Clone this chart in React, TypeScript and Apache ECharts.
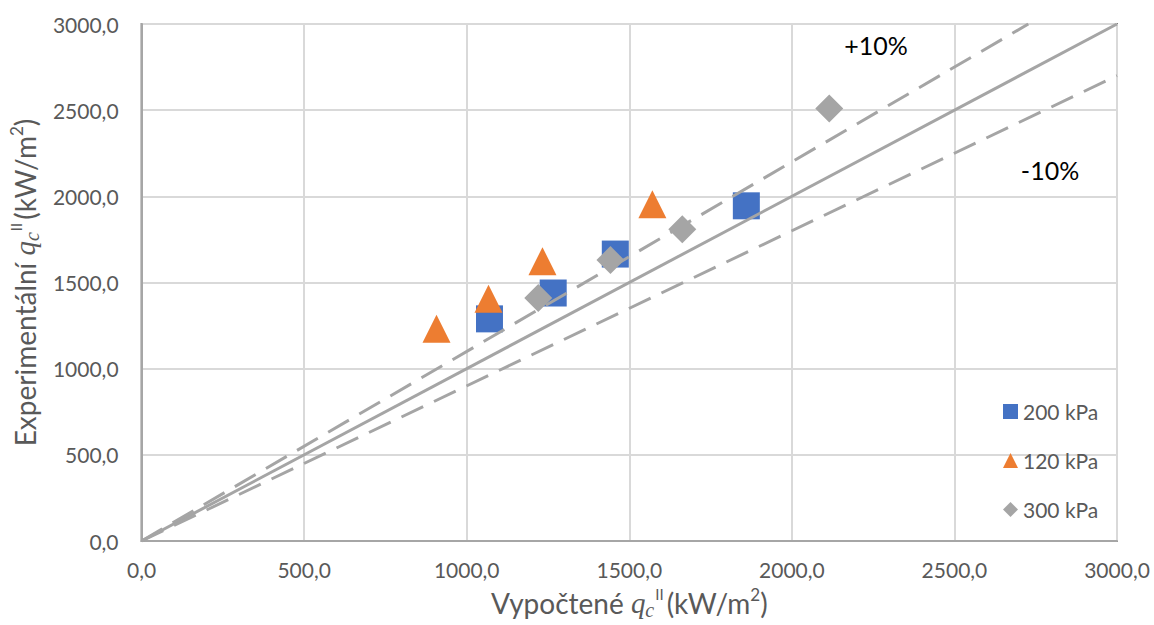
import React, { useEffect, useRef } from "react";
import * as echarts from "echarts";

// Data
const p200X = [1070, 1266, 1457, 1860];
const p200Y = [1289, 1439, 1665, 1945];
const p120X = [907, 1067, 1233, 1571];
const p120Y = [1232, 1405, 1624, 1954];
const p300X = [1220, 1442, 1663, 2115];
const p300Y = [1410, 1630, 1809, 2509];

const seriesNames = ["200 kPa", "120 kPa", "300 kPa"];
const seriesColors = ["#4472C4", "#ED7D31", "#A5A5A5"];

const lineIdeal = [[0, 0], [3000, 3000]];
const linePlus10 = [[0, 0], [3000 / 1.1, 3000]];
const lineMinus10 = [[0, 0], [3000, 2700]];

const annotationText = ["+10%", "-10%"];
const annotationX = [2259, 2794];
const annotationY = [2879, 2150];

const axisMin = 0;
const axisMax = 3000;
const axisStep = 500;

const zip = (xs: number[], ys: number[]) => xs.map((x, i) => [x, ys[i]]);
const fmt = (v: number) => v.toFixed(1).replace(".", ",");

const FONT = "Lato";
const TXT = "#595959";

const titleRich = {
  t: { fontFamily: FONT, fontSize: 28, color: TXT, lineHeight: 34, verticalAlign: "middle" },
  q: { fontFamily: "Liberation Serif", fontStyle: "italic", fontSize: 29, color: TXT, lineHeight: 34, verticalAlign: "middle" },
  s: { fontFamily: "Liberation Serif", fontStyle: "italic", fontSize: 20, color: TXT, lineHeight: 20, verticalAlign: "bottom" },
  p: { fontFamily: FONT, fontSize: 15, color: TXT, lineHeight: 15, verticalAlign: "top", padding: [0, 3, 0, 1] },
  p2: { fontFamily: FONT, fontSize: 17, color: TXT, lineHeight: 17, verticalAlign: "top" },
};

export default function App() {
  const ref = useRef<HTMLDivElement>(null);
  useEffect(() => {
    if (!ref.current) return;
    const chart = echarts.init(ref.current, null, { renderer: "svg" });
    const lineStyleBase = { color: "#A5A5A5", width: 3 };
    chart.setOption({
      animation: false,
      backgroundColor: "#ffffff",
      grid: {
        left: 141,
        right: 37,
        top: 24,
        bottom: 82,
        show: true,
        borderColor: "#7f7f7f",
        borderWidth: 2,
        backgroundColor: "#ffffff",
      },
      legend: {
        data: seriesNames,
        orient: "vertical",
        left: 998,
        top: 396,
        itemWidth: 15,
        itemHeight: 15,
        itemGap: 28,
        textStyle: { fontFamily: FONT, fontSize: 21, color: TXT },
      },
      xAxis: {
        type: "value",
        min: axisMin,
        max: axisMax,
        interval: axisStep,
        axisLine: { show: true, lineStyle: { color: "#A6A6A6", width: 2 } },
        axisTick: { show: false },
        splitLine: { lineStyle: { color: "#D9D9D9", width: 2 } },
        axisLabel: { formatter: fmt, fontFamily: FONT, fontSize: 21, color: TXT, margin: 18 },
        name: "{t|Vypočtené }{q|q}{s|c}{p|II}{t|(kW/m}{p2|2}{t|)}",
        nameLocation: "middle",
        nameGap: 45,
        nameTextStyle: { rich: titleRich },
      },
      yAxis: {
        type: "value",
        min: axisMin,
        max: axisMax,
        interval: axisStep,
        axisLine: { show: true, lineStyle: { color: "#A6A6A6", width: 2 } },
        axisTick: { show: false },
        splitLine: { lineStyle: { color: "#D9D9D9", width: 2 } },
        axisLabel: { formatter: fmt, fontFamily: FONT, fontSize: 21, color: TXT, margin: 23 },
        name: "{t|Experimentální }{q|q}{s|c}{p|II}{t|(kW/m}{p2|2}{t|)}",
        nameLocation: "middle",
        nameRotate: 90,
        nameGap: 97,
        nameTextStyle: { rich: titleRich },
      },
      series: [
        {
          name: seriesNames[0],
          type: "scatter",
          data: zip(p200X, p200Y),
          symbol: "rect",
          symbolSize: 27,
          itemStyle: { color: seriesColors[0], opacity: 1 },
          z: 2,
        },
        {
          type: "line",
          data: lineIdeal,
          symbol: "none",
          silent: true,
          lineStyle: { ...lineStyleBase, type: "solid" },
          z: 3,
        },
        {
          type: "line",
          data: linePlus10,
          symbol: "none",
          silent: true,
          lineStyle: { ...lineStyleBase, type: [24, 12] },
          z: 3,
          markPoint: {
            symbol: "circle",
            symbolSize: 0,
            silent: true,
            label: { show: true, position: "inside", fontFamily: FONT, fontSize: 25, color: "#000000" },
            data: annotationText.map((t, i) => ({
              coord: [annotationX[i], annotationY[i]],
              value: t,
              label: { formatter: t },
            })),
          },
        },
        {
          type: "line",
          data: lineMinus10,
          symbol: "none",
          silent: true,
          lineStyle: { ...lineStyleBase, type: [24, 12] },
          z: 3,
        },
        {
          name: seriesNames[1],
          type: "scatter",
          data: zip(p120X, p120Y),
          symbol: "triangle",
          symbolSize: 28,
          itemStyle: { color: seriesColors[1], opacity: 1 },
          z: 4,
        },
        {
          name: seriesNames[2],
          type: "scatter",
          data: zip(p300X, p300Y),
          symbol: "diamond",
          symbolSize: 28,
          itemStyle: { color: seriesColors[2], opacity: 1 },
          z: 4,
        },
      ],
    });
    return () => chart.dispose();
  }, []);
  return (
    <div
      ref={ref}
      style={{ position: "fixed", left: 0, top: 0, width: 1154, height: 625, background: "#fff" }}
    />
  );
}
